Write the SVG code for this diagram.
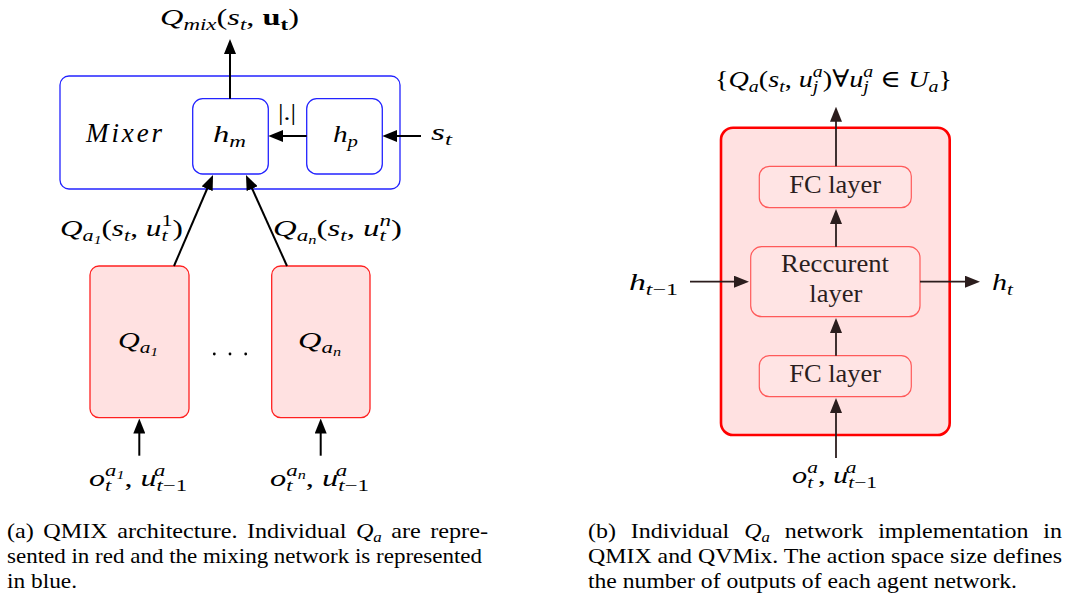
<svg xmlns="http://www.w3.org/2000/svg" width="1070" height="600" viewBox="0 0 1070 600">
  <style>
    text { font-family: "Liberation Serif", "DejaVu Serif", "Times New Roman", serif; fill: #000; }
    .m { font-style: italic; font-size: 24px; }
    .big { font-size: 27px; }
    .up { font-style: normal; }
    .bf { font-style: normal; font-weight: bold; }
    .s { font-size: 17px; }
    .ss { font-size: 12px; }
    .lbl { font-size: 25px; fill: #2a1e1e; }
    .cap { font-size: 21.5px; }
    .mix { fill: none; stroke: #2323ff; stroke-width: 1.3; }
    .agent { fill: #ffe1e1; stroke: #ff2020; stroke-width: 1.3; }
    .outer { fill: #ffe1e1; stroke: #ff0000; stroke-width: 2.6; }
    .inner { fill: #ffe4e4; stroke: #ff5a5a; stroke-width: 1.2; }
    .arr { stroke: #000; stroke-width: 2; fill: none; marker-end: url(#ah); }
    .arrd { stroke: #2b1d1d; stroke-width: 1.8; fill: none; marker-end: url(#ahd); }
  </style>
  <defs>
    <marker id="ah" viewBox="0 0 15 12" refX="3" refY="6" markerWidth="15" markerHeight="12" orient="auto" markerUnits="userSpaceOnUse">
      <path d="M0,0 L15,6 L0,12 z" fill="#000"/>
    </marker>
    <marker id="ahd" viewBox="0 0 15 12" refX="3" refY="6" markerWidth="15" markerHeight="12" orient="auto" markerUnits="userSpaceOnUse">
      <path d="M0,0 L15,6 L0,12 z" fill="#2b1d1d"/>
    </marker>
  </defs>

  <!-- ===== (a) QMIX architecture ===== -->
  <g id="mixer">
    <rect class="mix" x="60" y="76" width="340" height="113" rx="9"/>
    <text class="m big" x="86" y="142" textLength="76" lengthAdjust="spacing">Mixer</text>
  </g>
  <g id="h_m">
    <rect class="mix" x="192.7" y="98.7" width="75.6" height="75.3" rx="10"/>
    <text class="m" x="213" y="142" textLength="33" lengthAdjust="spacingAndGlyphs">h<tspan class="s" dy="5">m</tspan></text>
  </g>
  <g id="h_p">
    <rect class="mix" x="306.7" y="98.7" width="75.6" height="75.3" rx="10"/>
    <text class="m" x="333" y="142" textLength="25" lengthAdjust="spacingAndGlyphs">h<tspan class="s" dy="5">p</tspan></text>
  </g>
  <g id="agent_1">
    <rect class="agent" x="90" y="266" width="99" height="151.7" rx="9"/>
    <text class="m" x="118" y="348" textLength="40" lengthAdjust="spacingAndGlyphs">Q<tspan class="s" dy="5">a</tspan><tspan class="ss" dy="3">1</tspan></text>
  </g>
  <g id="agent_n">
    <rect class="agent" x="271.7" y="266" width="98.3" height="151.7" rx="9"/>
    <text class="m" x="298" y="348" textLength="43" lengthAdjust="spacingAndGlyphs">Q<tspan class="s" dy="5">a</tspan><tspan class="ss" dy="3">n</tspan></text>
  </g>
  <g id="ellipsis" fill="#000">
    <circle cx="214.3" cy="354" r="1.4"/>
    <circle cx="230" cy="354" r="1.4"/>
    <circle cx="245.7" cy="354" r="1.4"/>
  </g>

  <g id="connectors-a">
    <line class="arr" x1="230" y1="98.7" x2="230" y2="51"/>
    <line class="arr" x1="306.7" y1="136" x2="280.3" y2="136"/>
    <line class="arr" x1="421" y1="136" x2="394.3" y2="136"/>
    <line class="arr" x1="174" y1="266" x2="208.3" y2="186"/>
    <line class="arr" x1="287" y1="266" x2="250.9" y2="185.9"/>
    <line class="arr" x1="139.3" y1="455.7" x2="139.3" y2="430.5"/>
    <line class="arr" x1="320.7" y1="455.7" x2="320.7" y2="430.5"/>
  </g>

  <g id="labels-a">
    <text class="m" x="160" y="25" textLength="139" lengthAdjust="spacingAndGlyphs">Q<tspan class="s" dy="5">mix</tspan><tspan class="up" dy="-5">(</tspan>s<tspan class="s" dy="5">t</tspan><tspan class="up" dy="-5">, </tspan><tspan class="bf">u</tspan><tspan class="bf s" dy="5">t</tspan><tspan class="up" dy="-5">)</tspan></text>
    <text class="up" x="278" y="120" font-size="24" textLength="18" lengthAdjust="spacingAndGlyphs">|.|</text>
    <text class="m" x="431" y="140" textLength="21" lengthAdjust="spacingAndGlyphs">s<tspan class="s" dy="5">t</tspan></text>
    <text class="m" x="60" y="236" textLength="123" lengthAdjust="spacingAndGlyphs">Q<tspan class="s" dy="5">a</tspan><tspan class="ss" dy="3">1</tspan><tspan class="up" dy="-8">(</tspan>s<tspan class="s" dy="5">t</tspan><tspan class="up" dy="-5">, </tspan>u<tspan class="s" dy="5">t</tspan><tspan class="up s" dx="-4.7" dy="-15">1</tspan><tspan class="up" dy="10">)</tspan></text>
    <text class="m" x="273" y="236" textLength="129" lengthAdjust="spacingAndGlyphs">Q<tspan class="s" dy="5">a</tspan><tspan class="ss" dy="3">n</tspan><tspan class="up" dy="-8">(</tspan>s<tspan class="s" dy="5">t</tspan><tspan class="up" dy="-5">, </tspan>u<tspan class="s" dy="5">t</tspan><tspan class="s" dx="-4.7" dy="-15">n</tspan><tspan class="up" dy="10">)</tspan></text>
    <text class="m" x="89" y="486" textLength="98" lengthAdjust="spacingAndGlyphs">o<tspan class="s" dy="5">t</tspan><tspan class="s" dx="-4.7" dy="-15">a</tspan><tspan class="ss" dy="3">1</tspan><tspan class="up" dy="7">, </tspan>u<tspan class="s" dy="5">t<tspan class="up">−1</tspan></tspan><tspan class="s" dx="-24.7" dy="-15">a</tspan></text>
    <text class="m" x="270" y="486" textLength="99" lengthAdjust="spacingAndGlyphs">o<tspan class="s" dy="5">t</tspan><tspan class="s" dx="-4.7" dy="-15">a</tspan><tspan class="ss" dy="3">n</tspan><tspan class="up" dy="7">, </tspan>u<tspan class="s" dy="5">t<tspan class="up">−1</tspan></tspan><tspan class="s" dx="-24.7" dy="-15">a</tspan></text>
  </g>

  <!-- ===== (b) individual agent network ===== -->
  <g id="agent_net">
    <rect class="outer" x="721" y="127.7" width="228.7" height="307.3" rx="12"/>
  </g>
  <g id="fc_top">
    <rect class="inner" x="759.3" y="166.3" width="152" height="41.4" rx="10"/>
    <text class="lbl" x="789.3" y="193.3" textLength="91.7" lengthAdjust="spacingAndGlyphs">FC layer</text>
  </g>
  <g id="recurrent">
    <rect class="inner" x="750.7" y="246.7" width="169.3" height="70" rx="11"/>
    <text class="lbl" x="781" y="272.3" textLength="108" lengthAdjust="spacingAndGlyphs">Reccurent</text>
    <text class="lbl" x="809.3" y="301.7" textLength="53" lengthAdjust="spacingAndGlyphs">layer</text>
  </g>
  <g id="fc_bottom">
    <rect class="inner" x="759.3" y="355.7" width="152" height="41" rx="10"/>
    <text class="lbl" x="789.3" y="381.7" textLength="91.7" lengthAdjust="spacingAndGlyphs">FC layer</text>
  </g>

  <g id="connectors-b">
    <line class="arrd" x1="836" y1="166.3" x2="836" y2="118.7"/>
    <line class="arrd" x1="836" y1="246.7" x2="836" y2="221"/>
    <line class="arrd" x1="836" y1="355.7" x2="836" y2="330"/>
    <line class="arrd" x1="836" y1="458" x2="836" y2="410"/>
    <line class="arrd" x1="690" y1="281.7" x2="737" y2="281.7"/>
    <line class="arrd" x1="920" y1="281.7" x2="968" y2="281.7"/>
  </g>

  <g id="labels-b">
    <text class="m" x="715" y="87" textLength="237" lengthAdjust="spacingAndGlyphs"><tspan class="up">{</tspan>Q<tspan class="s" dy="5">a</tspan><tspan class="up" dy="-5">(</tspan>s<tspan class="s" dy="5">t</tspan><tspan class="up" dy="-5">, </tspan>u<tspan class="s" dy="5">j</tspan><tspan class="s" dx="-4.7" dy="-15">a</tspan><tspan class="up" dy="10">)∀</tspan>u<tspan class="s" dy="5">j</tspan><tspan class="s" dx="-4.7" dy="-15">a</tspan><tspan class="up" dy="10"> ∈ </tspan>U<tspan class="s" dy="5">a</tspan><tspan class="up" dy="-5">}</tspan></text>
    <text class="m" x="629" y="290" textLength="49" lengthAdjust="spacingAndGlyphs">h<tspan class="s" dy="5">t<tspan class="up">−1</tspan></tspan></text>
    <text class="m" x="992" y="290" textLength="21" lengthAdjust="spacingAndGlyphs">h<tspan class="s" dy="5">t</tspan></text>
    <text class="m" x="792" y="483" textLength="85" lengthAdjust="spacingAndGlyphs">o<tspan class="s" dy="5">t</tspan><tspan class="s" dx="-4.7" dy="-15">a</tspan><tspan class="up" dy="10">, </tspan>u<tspan class="s" dy="5">t<tspan class="up">−1</tspan></tspan><tspan class="s" dx="-24.7" dy="-15">a</tspan></text>
  </g>

  <!-- ===== captions ===== -->
  <g id="caption-a">
    <text class="cap" x="7" y="538" textLength="481" lengthAdjust="spacingAndGlyphs" style="word-spacing:3px">(a) QMIX architecture.  Individual <tspan font-style="italic">Q</tspan><tspan font-style="italic" font-size="15" dy="4">a</tspan><tspan dy="-4"> are repre-</tspan></text>
    <text class="cap" x="7" y="563" textLength="475" lengthAdjust="spacingAndGlyphs">sented in red and the mixing network is represented</text>
    <text class="cap" x="7" y="588" textLength="70" lengthAdjust="spacingAndGlyphs">in blue.</text>
  </g>
  <g id="caption-b">
    <text class="cap" x="588" y="538" textLength="474" lengthAdjust="spacingAndGlyphs" style="word-spacing:8px">(b) Individual <tspan font-style="italic">Q</tspan><tspan font-style="italic" font-size="15" dy="4">a</tspan><tspan dy="-4"> network implementation in</tspan></text>
    <text class="cap" x="588" y="563" textLength="474" lengthAdjust="spacingAndGlyphs">QMIX and QVMix.  The action space size defines</text>
    <text class="cap" x="588" y="588" textLength="429" lengthAdjust="spacingAndGlyphs">the number of outputs of each agent network.</text>
  </g>
</svg>
